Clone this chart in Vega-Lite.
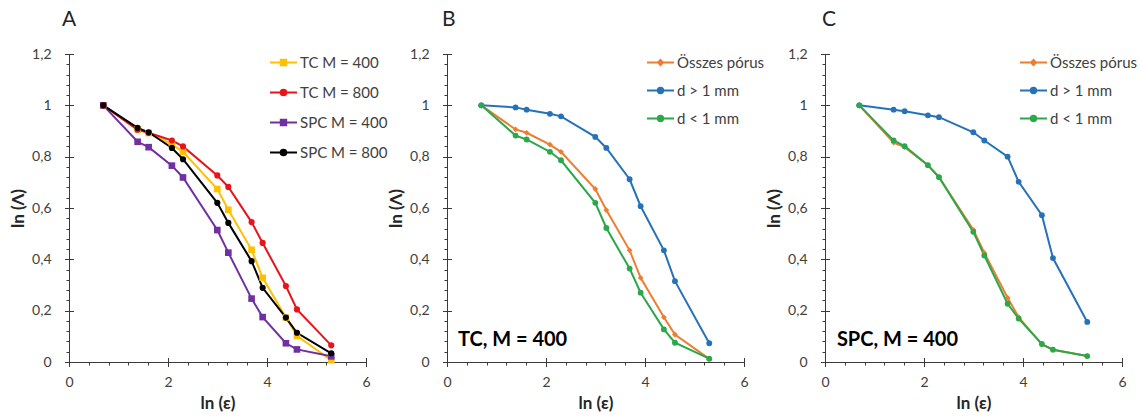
{
  "$schema": "https://vega.github.io/schema/vega-lite/v6.json",
  "padding": {"left": 9, "top": 9, "right": 4, "bottom": 4},
  "background": "white",
  "bounds": "flush",
  "spacing": 81,
  "config": {
    "font": "Lato",
    "view": {"stroke": null},
    "axis": {"grid": false, "domainColor": "#3a3a3a", "tickColor": "#3a3a3a", "labelColor": "#404040", "labelFont": "Lato", "labelFontSize": 14, "titleFont": "Lato", "titleFontSize": 17, "titleFontWeight": "bold", "titleColor": "#262626"}
  },
  "datasets": {
    "A": [
      {"ln_eps": 0.693, "ln_lambda": 1.0, "series": "TC M = 400"},
      {"ln_eps": 1.386, "ln_lambda": 0.906, "series": "TC M = 400"},
      {"ln_eps": 1.609, "ln_lambda": 0.892, "series": "TC M = 400"},
      {"ln_eps": 2.079, "ln_lambda": 0.848, "series": "TC M = 400"},
      {"ln_eps": 2.303, "ln_lambda": 0.819, "series": "TC M = 400"},
      {"ln_eps": 2.996, "ln_lambda": 0.674, "series": "TC M = 400"},
      {"ln_eps": 3.219, "ln_lambda": 0.593, "series": "TC M = 400"},
      {"ln_eps": 3.689, "ln_lambda": 0.437, "series": "TC M = 400"},
      {"ln_eps": 3.912, "ln_lambda": 0.328, "series": "TC M = 400"},
      {"ln_eps": 4.382, "ln_lambda": 0.173, "series": "TC M = 400"},
      {"ln_eps": 4.605, "ln_lambda": 0.102, "series": "TC M = 400"},
      {"ln_eps": 5.298, "ln_lambda": 0.007, "series": "TC M = 400"},
      {"ln_eps": 0.693, "ln_lambda": 1.0, "series": "TC M = 800"},
      {"ln_eps": 1.386, "ln_lambda": 0.905, "series": "TC M = 800"},
      {"ln_eps": 1.609, "ln_lambda": 0.893, "series": "TC M = 800"},
      {"ln_eps": 2.079, "ln_lambda": 0.863, "series": "TC M = 800"},
      {"ln_eps": 2.303, "ln_lambda": 0.840, "series": "TC M = 800"},
      {"ln_eps": 2.996, "ln_lambda": 0.727, "series": "TC M = 800"},
      {"ln_eps": 3.219, "ln_lambda": 0.682, "series": "TC M = 800"},
      {"ln_eps": 3.689, "ln_lambda": 0.545, "series": "TC M = 800"},
      {"ln_eps": 3.912, "ln_lambda": 0.464, "series": "TC M = 800"},
      {"ln_eps": 4.382, "ln_lambda": 0.296, "series": "TC M = 800"},
      {"ln_eps": 4.605, "ln_lambda": 0.205, "series": "TC M = 800"},
      {"ln_eps": 5.298, "ln_lambda": 0.065, "series": "TC M = 800"},
      {"ln_eps": 0.693, "ln_lambda": 1.0, "series": "SPC M = 400"},
      {"ln_eps": 1.386, "ln_lambda": 0.858, "series": "SPC M = 400"},
      {"ln_eps": 1.609, "ln_lambda": 0.837, "series": "SPC M = 400"},
      {"ln_eps": 2.079, "ln_lambda": 0.765, "series": "SPC M = 400"},
      {"ln_eps": 2.303, "ln_lambda": 0.719, "series": "SPC M = 400"},
      {"ln_eps": 2.996, "ln_lambda": 0.514, "series": "SPC M = 400"},
      {"ln_eps": 3.219, "ln_lambda": 0.426, "series": "SPC M = 400"},
      {"ln_eps": 3.689, "ln_lambda": 0.247, "series": "SPC M = 400"},
      {"ln_eps": 3.912, "ln_lambda": 0.175, "series": "SPC M = 400"},
      {"ln_eps": 4.382, "ln_lambda": 0.073, "series": "SPC M = 400"},
      {"ln_eps": 4.605, "ln_lambda": 0.049, "series": "SPC M = 400"},
      {"ln_eps": 5.298, "ln_lambda": 0.022, "series": "SPC M = 400"},
      {"ln_eps": 0.693, "ln_lambda": 1.0, "series": "SPC M = 800"},
      {"ln_eps": 1.386, "ln_lambda": 0.912, "series": "SPC M = 800"},
      {"ln_eps": 1.609, "ln_lambda": 0.895, "series": "SPC M = 800"},
      {"ln_eps": 2.079, "ln_lambda": 0.834, "series": "SPC M = 800"},
      {"ln_eps": 2.303, "ln_lambda": 0.790, "series": "SPC M = 800"},
      {"ln_eps": 2.996, "ln_lambda": 0.620, "series": "SPC M = 800"},
      {"ln_eps": 3.219, "ln_lambda": 0.542, "series": "SPC M = 800"},
      {"ln_eps": 3.689, "ln_lambda": 0.393, "series": "SPC M = 800"},
      {"ln_eps": 3.912, "ln_lambda": 0.289, "series": "SPC M = 800"},
      {"ln_eps": 4.382, "ln_lambda": 0.173, "series": "SPC M = 800"},
      {"ln_eps": 4.605, "ln_lambda": 0.114, "series": "SPC M = 800"},
      {"ln_eps": 5.298, "ln_lambda": 0.034, "series": "SPC M = 800"}
    ],
    "B": [
      {"ln_eps": 0.693, "ln_lambda": 1.0, "series": "Összes pórus"},
      {"ln_eps": 1.386, "ln_lambda": 0.906, "series": "Összes pórus"},
      {"ln_eps": 1.609, "ln_lambda": 0.893, "series": "Összes pórus"},
      {"ln_eps": 2.079, "ln_lambda": 0.847, "series": "Összes pórus"},
      {"ln_eps": 2.303, "ln_lambda": 0.819, "series": "Összes pórus"},
      {"ln_eps": 2.996, "ln_lambda": 0.674, "series": "Összes pórus"},
      {"ln_eps": 3.219, "ln_lambda": 0.592, "series": "Összes pórus"},
      {"ln_eps": 3.689, "ln_lambda": 0.435, "series": "Összes pórus"},
      {"ln_eps": 3.912, "ln_lambda": 0.328, "series": "Összes pórus"},
      {"ln_eps": 4.382, "ln_lambda": 0.174, "series": "Összes pórus"},
      {"ln_eps": 4.605, "ln_lambda": 0.107, "series": "Összes pórus"},
      {"ln_eps": 5.298, "ln_lambda": 0.012, "series": "Összes pórus"},
      {"ln_eps": 0.693, "ln_lambda": 1.0, "series": "d > 1 mm"},
      {"ln_eps": 1.386, "ln_lambda": 0.992, "series": "d > 1 mm"},
      {"ln_eps": 1.609, "ln_lambda": 0.983, "series": "d > 1 mm"},
      {"ln_eps": 2.079, "ln_lambda": 0.967, "series": "d > 1 mm"},
      {"ln_eps": 2.303, "ln_lambda": 0.957, "series": "d > 1 mm"},
      {"ln_eps": 2.996, "ln_lambda": 0.877, "series": "d > 1 mm"},
      {"ln_eps": 3.219, "ln_lambda": 0.834, "series": "d > 1 mm"},
      {"ln_eps": 3.689, "ln_lambda": 0.712, "series": "d > 1 mm"},
      {"ln_eps": 3.912, "ln_lambda": 0.607, "series": "d > 1 mm"},
      {"ln_eps": 4.382, "ln_lambda": 0.435, "series": "d > 1 mm"},
      {"ln_eps": 4.605, "ln_lambda": 0.315, "series": "d > 1 mm"},
      {"ln_eps": 5.298, "ln_lambda": 0.073, "series": "d > 1 mm"},
      {"ln_eps": 0.693, "ln_lambda": 1.0, "series": "d < 1 mm"},
      {"ln_eps": 1.386, "ln_lambda": 0.882, "series": "d < 1 mm"},
      {"ln_eps": 1.609, "ln_lambda": 0.867, "series": "d < 1 mm"},
      {"ln_eps": 2.079, "ln_lambda": 0.819, "series": "d < 1 mm"},
      {"ln_eps": 2.303, "ln_lambda": 0.786, "series": "d < 1 mm"},
      {"ln_eps": 2.996, "ln_lambda": 0.620, "series": "d < 1 mm"},
      {"ln_eps": 3.219, "ln_lambda": 0.522, "series": "d < 1 mm"},
      {"ln_eps": 3.689, "ln_lambda": 0.364, "series": "d < 1 mm"},
      {"ln_eps": 3.912, "ln_lambda": 0.270, "series": "d < 1 mm"},
      {"ln_eps": 4.382, "ln_lambda": 0.127, "series": "d < 1 mm"},
      {"ln_eps": 4.605, "ln_lambda": 0.075, "series": "d < 1 mm"},
      {"ln_eps": 5.298, "ln_lambda": 0.013, "series": "d < 1 mm"}
    ],
    "C": [
      {"ln_eps": 0.693, "ln_lambda": 1.0, "series": "Összes pórus"},
      {"ln_eps": 1.386, "ln_lambda": 0.855, "series": "Összes pórus"},
      {"ln_eps": 1.609, "ln_lambda": 0.837, "series": "Összes pórus"},
      {"ln_eps": 2.079, "ln_lambda": 0.767, "series": "Összes pórus"},
      {"ln_eps": 2.303, "ln_lambda": 0.720, "series": "Összes pórus"},
      {"ln_eps": 2.996, "ln_lambda": 0.515, "series": "Összes pórus"},
      {"ln_eps": 3.219, "ln_lambda": 0.425, "series": "Összes pórus"},
      {"ln_eps": 3.689, "ln_lambda": 0.250, "series": "Összes pórus"},
      {"ln_eps": 3.912, "ln_lambda": 0.175, "series": "Összes pórus"},
      {"ln_eps": 4.382, "ln_lambda": 0.068, "series": "Összes pórus"},
      {"ln_eps": 4.605, "ln_lambda": 0.048, "series": "Összes pórus"},
      {"ln_eps": 5.298, "ln_lambda": 0.023, "series": "Összes pórus"},
      {"ln_eps": 0.693, "ln_lambda": 1.0, "series": "d > 1 mm"},
      {"ln_eps": 1.386, "ln_lambda": 0.983, "series": "d > 1 mm"},
      {"ln_eps": 1.609, "ln_lambda": 0.977, "series": "d > 1 mm"},
      {"ln_eps": 2.079, "ln_lambda": 0.961, "series": "d > 1 mm"},
      {"ln_eps": 2.303, "ln_lambda": 0.954, "series": "d > 1 mm"},
      {"ln_eps": 2.996, "ln_lambda": 0.895, "series": "d > 1 mm"},
      {"ln_eps": 3.219, "ln_lambda": 0.863, "series": "d > 1 mm"},
      {"ln_eps": 3.689, "ln_lambda": 0.800, "series": "d > 1 mm"},
      {"ln_eps": 3.912, "ln_lambda": 0.702, "series": "d > 1 mm"},
      {"ln_eps": 4.382, "ln_lambda": 0.572, "series": "d > 1 mm"},
      {"ln_eps": 4.605, "ln_lambda": 0.405, "series": "d > 1 mm"},
      {"ln_eps": 5.298, "ln_lambda": 0.156, "series": "d > 1 mm"},
      {"ln_eps": 0.693, "ln_lambda": 1.0, "series": "d < 1 mm"},
      {"ln_eps": 1.386, "ln_lambda": 0.863, "series": "d < 1 mm"},
      {"ln_eps": 1.609, "ln_lambda": 0.841, "series": "d < 1 mm"},
      {"ln_eps": 2.079, "ln_lambda": 0.767, "series": "d < 1 mm"},
      {"ln_eps": 2.303, "ln_lambda": 0.720, "series": "d < 1 mm"},
      {"ln_eps": 2.996, "ln_lambda": 0.507, "series": "d < 1 mm"},
      {"ln_eps": 3.219, "ln_lambda": 0.415, "series": "d < 1 mm"},
      {"ln_eps": 3.689, "ln_lambda": 0.227, "series": "d < 1 mm"},
      {"ln_eps": 3.912, "ln_lambda": 0.169, "series": "d < 1 mm"},
      {"ln_eps": 4.382, "ln_lambda": 0.070, "series": "d < 1 mm"},
      {"ln_eps": 4.605, "ln_lambda": 0.048, "series": "d < 1 mm"},
      {"ln_eps": 5.298, "ln_lambda": 0.023, "series": "d < 1 mm"}
    ],
    "noteB": [{"label": "TC, M = 400"}],
    "noteC": [{"label": "SPC, M = 400"}]
  },
  "resolve": {"scale": {"color": "independent"}, "legend": {"color": "independent"}},
  "hconcat": [
    {
      "width": 297, "height": 308,
      "title": {"text": "A", "anchor": "start", "frame": "group", "fontSize": 21, "fontWeight": "normal", "color": "#262626", "baseline": "alphabetic", "offset": 0, "dx": -7},
      "data": {"name": "A"},
      "resolve": {"axis": {"x": "independent", "y": "independent"}},
      "layer": [
        {
          "mark": {"type": "line", "strokeWidth": 2},
          "encoding": {
            "x": {"field": "ln_eps", "type": "quantitative", "scale": {"domain": [0, 6], "nice": false, "zero": false},
              "axis": {"orient": "bottom", "title": "ln (ε)", "values": [0,0.4,0.8,1.2,1.6,2,2.4,2.8,3.2,3.6,4,4.4,4.8,5.2,5.6,6], "labelExpr": "datum.value % 2 === 0 ? format(datum.value, '~g') : ''", "tickSize": 3, "labelPadding": 10, "titlePadding": 6, "labelFlush": false}},
            "y": {"field": "ln_lambda", "type": "quantitative", "scale": {"domain": [0, 1.2], "nice": false, "zero": false},
              "axis": {"orient": "left", "title": "ln (Λ)", "values": [0,0.04,0.08,0.12,0.16,0.2,0.24,0.28,0.32,0.36,0.4,0.44,0.48,0.52,0.56,0.6,0.64,0.68,0.72,0.76,0.8,0.84,0.88,0.92,0.96,1,1.04,1.08,1.12,1.16,1.2], "labelExpr": "abs(datum.value*5 - round(datum.value*5)) < 0.001 ? replace(format(datum.value, '~g'), '.', ',') : ''", "tickSize": 3, "labelPadding": 15, "titlePadding": 4, "labelFlush": false}},
            "color": {"field": "series", "type": "nominal",
              "scale": {"domain": ["TC M = 400", "TC M = 800", "SPC M = 400", "SPC M = 800"], "range": ["#FFC000", "#E8141A", "#7030A0", "#000000"]},
              "legend": {"title": null, "orient": "none", "legendX": 200, "legendY": -6, "symbolSize": 729, "symbolStrokeWidth": 2, "rowPadding": 7, "labelOffset": 2, "labelFontSize": 15, "labelColor": "#404040", "labelFont": "Lato",
                "encode": {"symbols": {"update": {
                  "shape": {"signal": "indexof(['TC M = 400','SPC M = 400'], datum.value) >= 0 ? 'M-1,0H1M-0.2,-0.2H0.2V0.2H-0.2Z' : 'M-1,0H1M0.21,0A0.21,0.21,0,1,1,-0.21,0A0.21,0.21,0,1,1,0.21,0Z'"},
                  "stroke": {"signal": "['#FFC000','#E8141A','#7030A0','#000000'][indexof(['TC M = 400','TC M = 800','SPC M = 400','SPC M = 800'], datum.value)]"},
                  "fill": {"signal": "['#FFC000','#E8141A','#7030A0','#000000'][indexof(['TC M = 400','TC M = 800','SPC M = 400','SPC M = 800'], datum.value)]"},
                  "strokeWidth": {"value": 2},
                  "opacity": {"value": 1}
                }}}}
            }
          }
        },
        {
          "transform": [{"filter": "datum.series == 'TC M = 400' || datum.series == 'SPC M = 400'"}],
          "mark": {"type": "point", "filled": true, "opacity": 1, "size": 44, "shape": "square"},
          "encoding": {
            "x": {"field": "ln_eps", "type": "quantitative", "axis": {"orient": "bottom", "values": [0,2,4,6], "labels": false, "domain": false, "title": null, "tickSize": 9, "offset": -4.5}},
            "y": {"field": "ln_lambda", "type": "quantitative", "axis": {"orient": "left", "values": [0,0.2,0.4,0.6,0.8,1,1.2], "labels": false, "domain": false, "title": null, "tickSize": 9, "offset": -4.5}},
            "color": {"field": "series", "type": "nominal", "legend": null}
          }
        },
        {
          "transform": [{"filter": "datum.series == 'TC M = 800' || datum.series == 'SPC M = 800'"}],
          "mark": {"type": "point", "filled": true, "opacity": 1, "size": 38, "shape": "circle"},
          "encoding": {
            "x": {"field": "ln_eps", "type": "quantitative", "axis": null},
            "y": {"field": "ln_lambda", "type": "quantitative", "axis": null},
            "color": {"field": "series", "type": "nominal", "legend": null}
          }
        }
      ]
    },
    {
      "width": 297, "height": 308,
      "title": {"text": "B", "anchor": "start", "frame": "group", "fontSize": 21, "fontWeight": "normal", "color": "#262626", "baseline": "alphabetic", "offset": 0, "dx": -5},
      "resolve": {"axis": {"x": "independent", "y": "independent"}},
      "layer": [
        {
          "data": {"name": "B"},
          "mark": {"type": "line", "strokeWidth": 2},
          "encoding": {
            "x": {"field": "ln_eps", "type": "quantitative", "scale": {"domain": [0, 6], "nice": false, "zero": false},
              "axis": {"orient": "bottom", "title": "ln (ε)", "values": [0,0.4,0.8,1.2,1.6,2,2.4,2.8,3.2,3.6,4,4.4,4.8,5.2,5.6,6], "labelExpr": "datum.value % 2 === 0 ? format(datum.value, '~g') : ''", "tickSize": 3, "labelPadding": 10, "titlePadding": 6, "labelFlush": false}},
            "y": {"field": "ln_lambda", "type": "quantitative", "scale": {"domain": [0, 1.2], "nice": false, "zero": false},
              "axis": {"orient": "left", "title": "ln (Λ)", "values": [0,0.04,0.08,0.12,0.16,0.2,0.24,0.28,0.32,0.36,0.4,0.44,0.48,0.52,0.56,0.6,0.64,0.68,0.72,0.76,0.8,0.84,0.88,0.92,0.96,1,1.04,1.08,1.12,1.16,1.2], "labelExpr": "abs(datum.value*5 - round(datum.value*5)) < 0.001 ? replace(format(datum.value, '~g'), '.', ',') : ''", "tickSize": 3, "labelPadding": 15, "titlePadding": 4, "labelFlush": false}},
            "color": {"field": "series", "type": "nominal",
              "scale": {"domain": ["Összes pórus", "d > 1 mm", "d < 1 mm"], "range": ["#ED7D31", "#2672B9", "#2BA84A"]},
              "legend": {"title": null, "orient": "none", "legendX": 199, "legendY": -6, "symbolSize": 729, "symbolStrokeWidth": 2, "rowPadding": 5, "labelOffset": 2, "labelFontSize": 15, "labelColor": "#404040", "labelFont": "Lato",
                "encode": {"symbols": {"update": {
                  "shape": {"signal": "datum.value == 'Összes pórus' ? 'M-1,0H1M0,-0.19L0.19,0L0,0.19L-0.19,0Z' : 'M-1,0H1M0.2,0A0.2,0.2,0,1,1,-0.2,0A0.2,0.2,0,1,1,0.2,0Z'"},
                  "stroke": {"signal": "['#ED7D31','#2672B9','#2BA84A'][indexof(['Összes pórus','d > 1 mm','d < 1 mm'], datum.value)]"},
                  "fill": {"signal": "['#ED7D31','#2672B9','#2BA84A'][indexof(['Összes pórus','d > 1 mm','d < 1 mm'], datum.value)]"},
                  "strokeWidth": {"value": 2},
                  "opacity": {"value": 1}
                }}}}
            }
          }
        },
        {
          "data": {"name": "B"},
          "transform": [{"filter": "datum.series == 'Összes pórus'"}],
          "mark": {"type": "point", "filled": true, "opacity": 1, "size": 34, "shape": "diamond"},
          "encoding": {
            "x": {"field": "ln_eps", "type": "quantitative", "axis": {"orient": "bottom", "values": [0,2,4,6], "labels": false, "domain": false, "title": null, "tickSize": 9, "offset": -4.5}},
            "y": {"field": "ln_lambda", "type": "quantitative", "axis": {"orient": "left", "values": [0,0.2,0.4,0.6,0.8,1,1.2], "labels": false, "domain": false, "title": null, "tickSize": 9, "offset": -4.5}},
            "color": {"field": "series", "type": "nominal", "legend": null}
          }
        },
        {
          "data": {"name": "B"},
          "transform": [{"filter": "datum.series != 'Összes pórus'"}],
          "mark": {"type": "point", "filled": true, "opacity": 1, "size": 34, "shape": "circle"},
          "encoding": {
            "x": {"field": "ln_eps", "type": "quantitative", "axis": null},
            "y": {"field": "ln_lambda", "type": "quantitative", "axis": null},
            "color": {"field": "series", "type": "nominal", "legend": null}
          }
        },
        {
          "data": {"name": "noteB"},
          "mark": {"type": "text", "align": "left", "baseline": "middle", "fontSize": 20, "fontWeight": "bold", "font": "Lato", "color": "#000000"},
          "encoding": {
            "x": {"datum": 0.22, "type": "quantitative", "axis": null},
            "y": {"datum": 0.085, "type": "quantitative", "axis": null},
            "text": {"field": "label"}
          }
        }
      ]
    },
    {
      "width": 297, "height": 308,
      "title": {"text": "C", "anchor": "start", "frame": "group", "fontSize": 21, "fontWeight": "normal", "color": "#262626", "baseline": "alphabetic", "offset": 0, "dx": -3},
      "resolve": {"axis": {"x": "independent", "y": "independent"}},
      "layer": [
        {
          "data": {"name": "C"},
          "mark": {"type": "line", "strokeWidth": 2},
          "encoding": {
            "x": {"field": "ln_eps", "type": "quantitative", "scale": {"domain": [0, 6], "nice": false, "zero": false},
              "axis": {"orient": "bottom", "title": "ln (ε)", "values": [0,0.4,0.8,1.2,1.6,2,2.4,2.8,3.2,3.6,4,4.4,4.8,5.2,5.6,6], "labelExpr": "datum.value % 2 === 0 ? format(datum.value, '~g') : ''", "tickSize": 3, "labelPadding": 10, "titlePadding": 6, "labelFlush": false}},
            "y": {"field": "ln_lambda", "type": "quantitative", "scale": {"domain": [0, 1.2], "nice": false, "zero": false},
              "axis": {"orient": "left", "title": "ln (Λ)", "values": [0,0.04,0.08,0.12,0.16,0.2,0.24,0.28,0.32,0.36,0.4,0.44,0.48,0.52,0.56,0.6,0.64,0.68,0.72,0.76,0.8,0.84,0.88,0.92,0.96,1,1.04,1.08,1.12,1.16,1.2], "labelExpr": "abs(datum.value*5 - round(datum.value*5)) < 0.001 ? replace(format(datum.value, '~g'), '.', ',') : ''", "tickSize": 3, "labelPadding": 15, "titlePadding": 4, "labelFlush": false}},
            "color": {"field": "series", "type": "nominal",
              "scale": {"domain": ["Összes pórus", "d > 1 mm", "d < 1 mm"], "range": ["#ED7D31", "#2672B9", "#2BA84A"]},
              "legend": {"title": null, "orient": "none", "legendX": 194, "legendY": -6, "symbolSize": 729, "symbolStrokeWidth": 2, "rowPadding": 5, "labelOffset": 2, "labelFontSize": 15, "labelColor": "#404040", "labelFont": "Lato",
                "encode": {"symbols": {"update": {
                  "shape": {"signal": "datum.value == 'Összes pórus' ? 'M-1,0H1M0,-0.19L0.19,0L0,0.19L-0.19,0Z' : 'M-1,0H1M0.2,0A0.2,0.2,0,1,1,-0.2,0A0.2,0.2,0,1,1,0.2,0Z'"},
                  "stroke": {"signal": "['#ED7D31','#2672B9','#2BA84A'][indexof(['Összes pórus','d > 1 mm','d < 1 mm'], datum.value)]"},
                  "fill": {"signal": "['#ED7D31','#2672B9','#2BA84A'][indexof(['Összes pórus','d > 1 mm','d < 1 mm'], datum.value)]"},
                  "strokeWidth": {"value": 2},
                  "opacity": {"value": 1}
                }}}}
            }
          }
        },
        {
          "data": {"name": "C"},
          "transform": [{"filter": "datum.series == 'Összes pórus'"}],
          "mark": {"type": "point", "filled": true, "opacity": 1, "size": 34, "shape": "diamond"},
          "encoding": {
            "x": {"field": "ln_eps", "type": "quantitative", "axis": {"orient": "bottom", "values": [0,2,4,6], "labels": false, "domain": false, "title": null, "tickSize": 9, "offset": -4.5}},
            "y": {"field": "ln_lambda", "type": "quantitative", "axis": {"orient": "left", "values": [0,0.2,0.4,0.6,0.8,1,1.2], "labels": false, "domain": false, "title": null, "tickSize": 9, "offset": -4.5}},
            "color": {"field": "series", "type": "nominal", "legend": null}
          }
        },
        {
          "data": {"name": "C"},
          "transform": [{"filter": "datum.series != 'Összes pórus'"}],
          "mark": {"type": "point", "filled": true, "opacity": 1, "size": 34, "shape": "circle"},
          "encoding": {
            "x": {"field": "ln_eps", "type": "quantitative", "axis": null},
            "y": {"field": "ln_lambda", "type": "quantitative", "axis": null},
            "color": {"field": "series", "type": "nominal", "legend": null}
          }
        },
        {
          "data": {"name": "noteC"},
          "mark": {"type": "text", "align": "left", "baseline": "middle", "fontSize": 20, "fontWeight": "bold", "font": "Lato", "color": "#000000"},
          "encoding": {
            "x": {"datum": 0.24, "type": "quantitative", "axis": null},
            "y": {"datum": 0.085, "type": "quantitative", "axis": null},
            "text": {"field": "label"}
          }
        }
      ]
    }
  ]
}
